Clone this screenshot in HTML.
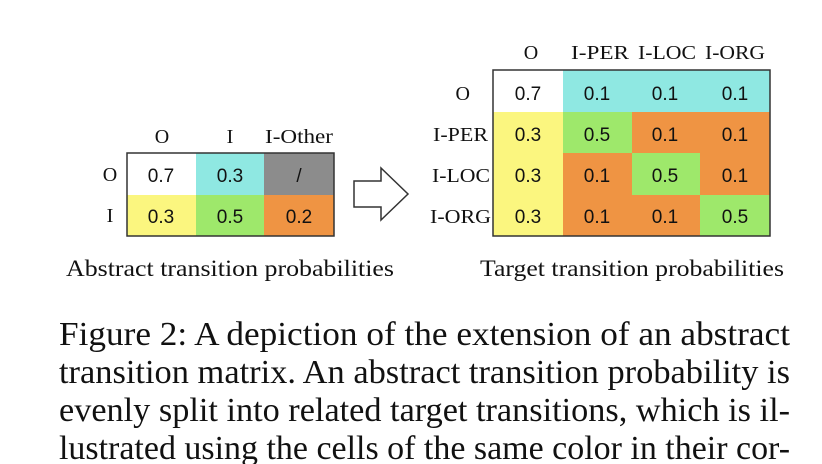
<!DOCTYPE html>
<html><head><meta charset="utf-8"><style>
html,body{margin:0;padding:0;background:#fff;width:822px;height:464px;overflow:hidden}
svg{display:block}
.s{font-family:"Liberation Serif",serif;fill:#111}
.n{font-family:"Liberation Sans",sans-serif;fill:#111;font-size:19px}
</style></head><body>
<svg width="822" height="464" viewBox="0 0 822 464">
<g>
<rect x="127" y="153" width="69" height="42" fill="#fff"/>
<rect x="196" y="153" width="68" height="42" fill="#8fe8e2"/>
<rect x="264" y="153" width="70" height="42" fill="#8c8c8c"/>
<rect x="127" y="195" width="69" height="41" fill="#fbf67f"/>
<rect x="196" y="195" width="68" height="41" fill="#9ee86b"/>
<rect x="264" y="195" width="70" height="41" fill="#ef9443"/>
<rect x="127" y="153" width="207" height="83" fill="none" stroke="#333" stroke-width="1.5"/>
<g class="s" font-size="20" text-anchor="middle">
<text x="162" y="143">O</text><text x="230" y="143">I</text><text x="299" y="143" textLength="68" lengthAdjust="spacingAndGlyphs">I-Other</text>
<text x="110" y="181">O</text><text x="110" y="222">I</text>
</g>
<g class="n" text-anchor="middle">
<text x="161" y="182">0.7</text><text x="230" y="182">0.3</text><text x="299" y="182">/</text>
<text x="161" y="223">0.3</text><text x="230" y="223">0.5</text><text x="299" y="223">0.2</text>
</g>
</g>
<polygon points="354,181 381,181 381,168 408,194 381,220 381,207 354,207" fill="#fff" stroke="#333" stroke-width="1.5"/>
<g>
<rect x="493" y="70" width="70" height="42" fill="#fff"/>
<rect x="563" y="70" width="207" height="42" fill="#8fe8e2"/>
<rect x="493" y="112" width="70" height="124" fill="#fbf67f"/>
<rect x="563" y="112" width="207" height="124" fill="#ef9443"/>
<rect x="563" y="112" width="69" height="41" fill="#9ee86b"/>
<rect x="632" y="153" width="68" height="42" fill="#9ee86b"/>
<rect x="700" y="195" width="70" height="41" fill="#9ee86b"/>
<rect x="493" y="70" width="277" height="166" fill="none" stroke="#333" stroke-width="1.5"/>
<g class="s" font-size="20" text-anchor="middle">
<text x="531" y="59">O</text><text x="600" y="59" textLength="58" lengthAdjust="spacingAndGlyphs">I-PER</text><text x="667" y="59" textLength="58" lengthAdjust="spacingAndGlyphs">I-LOC</text><text x="735" y="59" textLength="60" lengthAdjust="spacingAndGlyphs">I-ORG</text>
</g>
<g class="s" font-size="20" text-anchor="end">
<text x="470" y="100">O</text><text x="488" y="141" textLength="55" lengthAdjust="spacingAndGlyphs">I-PER</text><text x="490" y="182" textLength="58" lengthAdjust="spacingAndGlyphs">I-LOC</text><text x="491" y="223" textLength="61" lengthAdjust="spacingAndGlyphs">I-ORG</text>
</g>
<g class="n" text-anchor="middle">
<text x="528" y="100">0.7</text><text x="597" y="100">0.1</text><text x="665" y="100">0.1</text><text x="735" y="100">0.1</text>
<text x="528" y="141">0.3</text><text x="597" y="141">0.5</text><text x="665" y="141">0.1</text><text x="735" y="141">0.1</text>
<text x="528" y="182">0.3</text><text x="597" y="182">0.1</text><text x="665" y="182">0.5</text><text x="735" y="182">0.1</text>
<text x="528" y="223">0.3</text><text x="597" y="223">0.1</text><text x="665" y="223">0.1</text><text x="735" y="223">0.5</text>
</g>
</g>
<g class="s" font-size="23">
<text x="66" y="276" textLength="328" lengthAdjust="spacingAndGlyphs">Abstract transition probabilities</text>
<text x="480" y="276" textLength="304" lengthAdjust="spacingAndGlyphs">Target transition probabilities</text>
</g>
<g class="s" font-size="34">
<text x="59" y="345" textLength="731" lengthAdjust="spacingAndGlyphs">Figure 2:  A depiction of the extension of an abstract</text>
<text x="59" y="383" textLength="731" lengthAdjust="spacingAndGlyphs">transition matrix.  An abstract transition probability is</text>
<text x="59" y="421" textLength="731" lengthAdjust="spacingAndGlyphs">evenly split into related target transitions, which is il-</text>
<text x="59" y="459" textLength="731" lengthAdjust="spacingAndGlyphs">lustrated using the cells of the same color in their cor-</text>
</g>
</svg>
</body></html>
